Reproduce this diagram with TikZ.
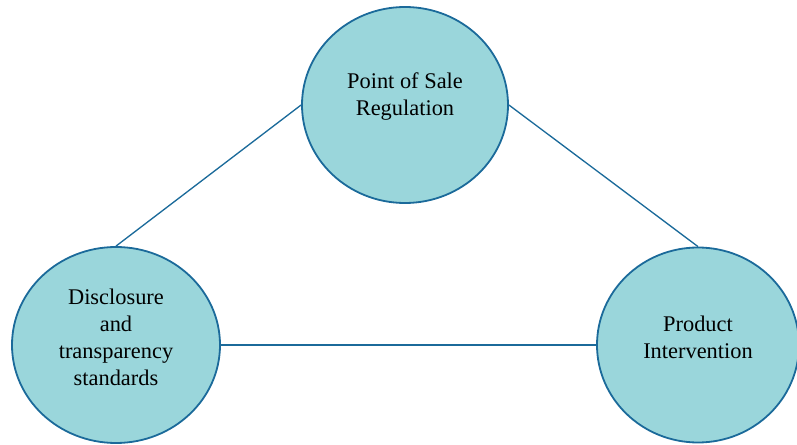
\documentclass[tikz,border=0pt]{standalone}
\usepackage{fontspec}
\setmainfont{Liberation Serif}
\usetikzlibrary{shapes.geometric}
\definecolor{tealfill}{HTML}{9AD6DB}
\definecolor{edgeblue}{HTML}{1B6A9A}
\begin{document}
\begin{tikzpicture}[x=0.75pt,y=-0.75pt,
  bubble/.style={ellipse, draw=edgeblue, fill=tealfill, line width=1.35pt, inner sep=0pt},
  txt/.style={align=center, inner sep=0pt, font=\fontsize{16.8}{20.2}\selectfont},
  link/.style={draw=edgeblue, line width=1pt}]
\useasboundingbox (0,0) rectangle (797,445);
\node[bubble, minimum width=206*0.75pt, minimum height=196*0.75pt] (top) at (405,105) {};
\node[bubble, minimum width=208*0.75pt, minimum height=196*0.75pt] (left) at (116,345) {};
\node[bubble, minimum width=202*0.75pt, minimum height=195*0.75pt] (right) at (698,345) {};
\node[txt] (toptext) at ([yshift=6pt]top.center) {Point of Sale\\Regulation};
\node[txt] (lefttext) at ([yshift=5.5pt]left.center) {Disclosure\\and\\transparency\\standards};
\node[txt] (righttext) at ([yshift=5.5pt]right.center) {Product\\Intervention};
\draw[link] (top.west) -- (left.north);
\draw[link] (top.east) -- (right.north);
\draw[link] (left.east) -- (right.west);
\end{tikzpicture}
\end{document}
